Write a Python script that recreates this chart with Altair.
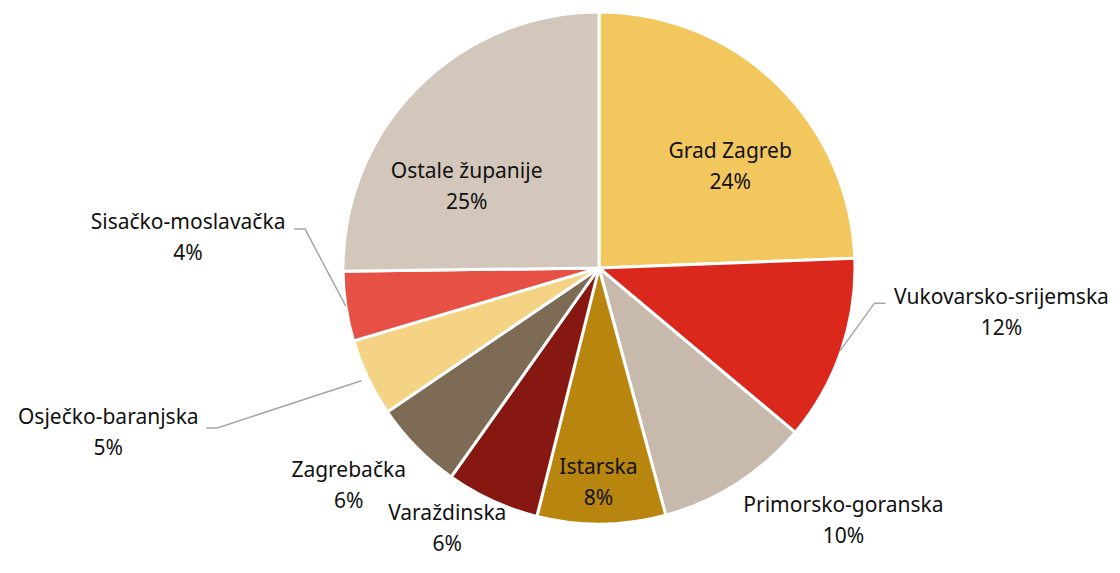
import math
import altair as alt
import pandas as pd

# ---- data ----
names = ["Grad Zagreb", "Vukovarsko-srijemska", "Primorsko-goranska", "Istarska",
         "Varaždinska", "Zagrebačka", "Osječko-baranjska", "Sisačko-moslavačka",
         "Ostale županije"]
values = [24.4, 11.7, 9.7, 8.1, 5.9, 5.7, 4.9, 4.4, 25.2]
colors = ["#F1C75E", "#DA291C", "#C7BAAC", "#B8860F", "#861811", "#7E6B56",
          "#F5D384", "#E65045", "#D3C7BC"]

# ---- layout (styling, not data) ----
CX, CY, R = 591, 260, 256
FONT = "Noto Sans"
FS = 21
LH = 31
# label placement: (angle offset from slice middle in degrees, distance from centre in px)
label_place = {
    "Grad Zagreb": (8.7, 165), "Vukovarsko-srijemska": (-12.5, 405),
    "Primorsko-goranska": (-11.4, 352), "Istarska": (0.7, 216),
    "Varaždinska": (5.5, 302), "Zagrebačka": (3.4, 332),
    "Osječko-baranjska": (6.7, 518), "Sisačko-moslavačka": (12.8, 412),
    "Ostale županije": (-13.3, 155),
}
# leader lines: start radius, end offset from label centre, elbow length
leaders = {
    "Vukovarsko-srijemska": (255, (-116, -10), -11),
    "Sisačko-moslavačka": (256, (106, -9), 11),
    "Osječko-baranjska": (263, (98, -6), 11),
}

total = sum(values)
rows, lrows = [], []
cum = 0.0
for i, (n, v) in enumerate(zip(names, values)):
    start, end = cum, cum + v
    cum = end
    mid = (start + end) / 2
    off, lr = label_place[n]
    lab = mid + off * total / 360.0
    rows.append(dict(name=n, start=start, end=end, lab=lab, lr=lr,
                     label=f"{n}\n{round(v / total * 100)}%"))
    if n in leaders:
        sr, (ex, ey), el = leaders[n]
        a = math.radians(mid / total * 360)
        la = math.radians(lab / total * 360)
        lx, ly = CX + lr * math.sin(la), CY - lr * math.cos(la)
        endx, endy = lx + ex, ly + ey
        pts = [(CX + sr * math.sin(a), CY - sr * math.cos(a)),
               (endx + el, endy), (endx, endy)]
        for k, (px, py) in enumerate(pts):
            lrows.append(dict(name=n, k=k, x=px, y=py))

df = pd.DataFrame(rows)
ldf = pd.DataFrame(lrows)

theta_scale = alt.Scale(domain=[0, total])

arcs = alt.Chart(df).mark_arc(outerRadius=R, stroke="white", strokeWidth=3).encode(
    theta=alt.Theta("start:Q", scale=theta_scale),
    theta2="end:Q",
    color=alt.Color("name:N", scale=alt.Scale(domain=names, range=colors), legend=None),
    x=alt.value(CX), y=alt.value(CY),
)

texts = alt.Chart(df).mark_text(font=FONT, fontSize=FS, lineBreak="\n", lineHeight=LH,
                                align="center", baseline="middle", dy=-LH / 2,
                                color="#111111").encode(
    theta=alt.Theta("lab:Q", scale=theta_scale),
    radius=alt.Radius("lr:Q", scale=None),
    text="label:N",
    x=alt.value(CX), y=alt.value(CY),
)

lines = alt.Chart(ldf).mark_line(color="#A6A6A6", strokeWidth=1.5).encode(
    x=alt.X("x:Q", scale=None, axis=None),
    y=alt.Y("y:Q", scale=None, axis=None),
    detail="name:N",
    order="k:Q",
)

chart = alt.layer(arcs, lines, texts).properties(
    width=1104, height=557, padding=0, autosize="none"
).configure_view(stroke=None)

chart.save("out.html", embed_options={"renderer": "svg", "actions": False})
